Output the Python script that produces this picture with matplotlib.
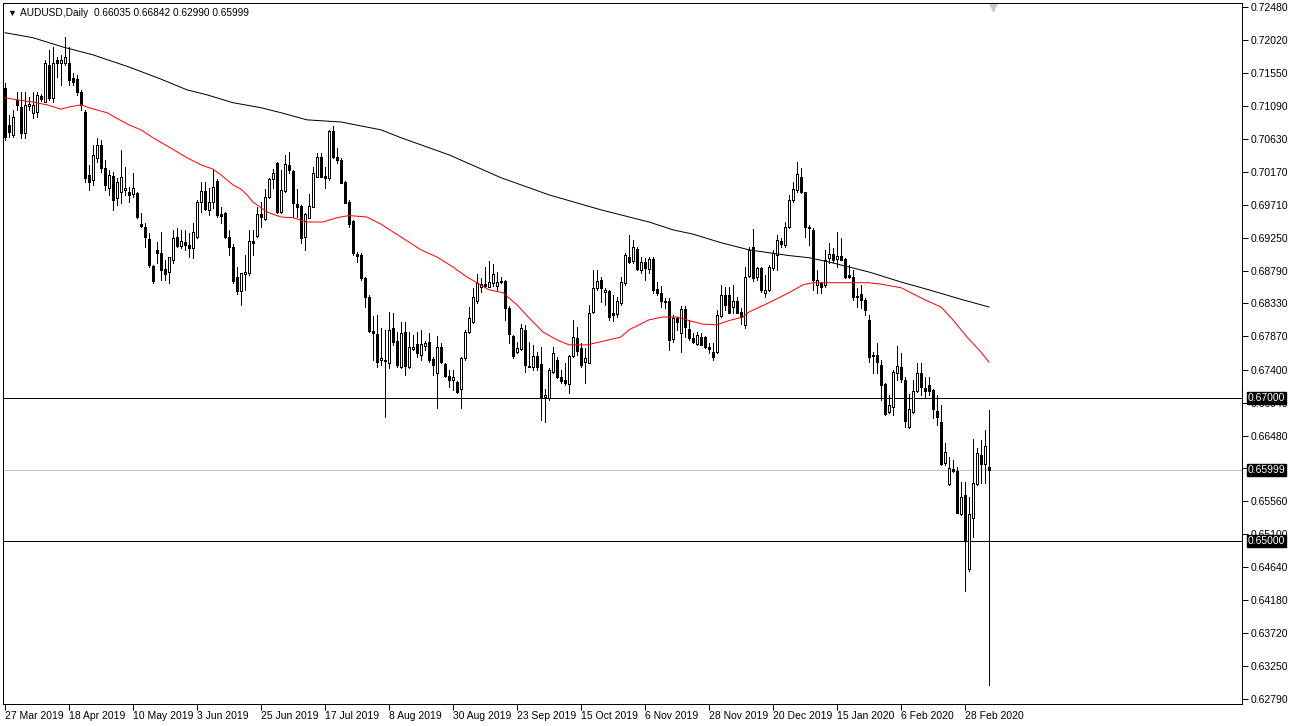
import matplotlib.pyplot as plt
from matplotlib.transforms import blended_transform_factory

plt.rcParams['font.family'] = ['Liberation Sans', 'DejaVu Sans']

# AUDUSD daily candles, 27 Mar 2019 .. 9 Mar 2020
opens = [0.7135, 0.7083, 0.7069, 0.7118, 0.7108, 0.7072, 0.7110, 0.7100, 0.7101, 0.7124,
         0.7115, 0.7167, 0.7121, 0.7174, 0.7170, 0.7170, 0.7170, 0.7149, 0.7147, 0.7129,
         0.7101, 0.7013, 0.7006, 0.7037, 0.7055, 0.7023, 0.6995, 0.7012, 0.6981, 0.6989,
         0.6992, 0.6989, 0.6986, 0.6988, 0.6944, 0.6940, 0.6923, 0.6886, 0.6908, 0.6904,
         0.6881, 0.6877, 0.6894, 0.6926, 0.6914, 0.6919, 0.6915, 0.6911, 0.6926, 0.6975,
         0.6991, 0.6964, 0.6975, 0.7005, 0.6958, 0.6960, 0.6926, 0.6912, 0.6870, 0.6851,
         0.6874, 0.6876, 0.6921, 0.6928, 0.6958, 0.6951, 0.6982, 0.7007, 0.7030, 0.6961,
         0.6991, 0.7027, 0.7019, 0.6972, 0.6970, 0.6926, 0.6953, 0.6968, 0.7010, 0.7038,
         0.7012, 0.7009, 0.7075, 0.7038, 0.7034, 0.7003, 0.6975, 0.6949, 0.6902, 0.6901,
         0.6869, 0.6842, 0.6795, 0.6790, 0.6754, 0.6754, 0.6750, 0.6799, 0.6781, 0.6744,
         0.6793, 0.6744, 0.6769, 0.6776, 0.6761, 0.6774, 0.6779, 0.6755, 0.6736, 0.6772,
         0.6748, 0.6732, 0.6726, 0.6723, 0.6713, 0.6757, 0.6793, 0.6807, 0.6837, 0.6856,
         0.6860, 0.6856, 0.6862, 0.6858, 0.6865, 0.6865, 0.6827, 0.6788, 0.6765, 0.6769,
         0.6796, 0.6746, 0.6744, 0.6760, 0.6748, 0.6702, 0.6701, 0.6737, 0.6754, 0.6730,
         0.6726, 0.6720, 0.6760, 0.6785, 0.6771, 0.6751, 0.6750, 0.6821, 0.6855, 0.6866,
         0.6849, 0.6851, 0.6820, 0.6818, 0.6834, 0.6862, 0.6898, 0.6893, 0.6909, 0.6880,
         0.6891, 0.6881, 0.6895, 0.6853, 0.6848, 0.6837, 0.6837, 0.6783, 0.6813, 0.6792,
         0.6825, 0.6797, 0.6785, 0.6776, 0.6786, 0.6786, 0.6772, 0.6765, 0.6765, 0.6816,
         0.6845, 0.6845, 0.6828, 0.6837, 0.6821, 0.6803, 0.6872, 0.6912, 0.6870, 0.6883,
         0.6848, 0.6852, 0.6883, 0.6901, 0.6921, 0.6915, 0.6940, 0.6978, 0.6992, 0.7010,
         0.6989, 0.6940, 0.6936, 0.6859, 0.6862, 0.6859, 0.6897, 0.6902, 0.6895, 0.6900,
         0.6895, 0.6873, 0.6870, 0.6844, 0.6846, 0.6838, 0.6810, 0.6761, 0.6761, 0.6747,
         0.6720, 0.6681, 0.6688, 0.6736, 0.6744, 0.6726, 0.6660, 0.6681, 0.6711, 0.6736,
         0.6715, 0.6719, 0.6712, 0.6683, 0.6667, 0.6610, 0.6580, 0.6601, 0.6599, 0.6538,
         0.6565, 0.6461, 0.6533, 0.6580, 0.6621, 0.6608, 0.66035]
highs = [0.7142, 0.7097, 0.7104, 0.7129, 0.7129, 0.7129, 0.7122, 0.7129, 0.7129, 0.7126,
         0.7174, 0.7188, 0.7192, 0.7178, 0.7181, 0.7206, 0.7192, 0.7156, 0.7153, 0.7132,
         0.7104, 0.7027, 0.7055, 0.7065, 0.7062, 0.7034, 0.7020, 0.7017, 0.7009, 0.7048,
         0.7024, 0.6996, 0.7016, 0.6989, 0.6960, 0.6946, 0.6932, 0.6887, 0.6919, 0.6933,
         0.6894, 0.6898, 0.6936, 0.6939, 0.6936, 0.6936, 0.6932, 0.6946, 0.6978, 0.7003,
         0.7003, 0.6995, 0.7021, 0.7007, 0.6968, 0.6961, 0.6936, 0.6916, 0.6884, 0.6876,
         0.6901, 0.6936, 0.6936, 0.6968, 0.6975, 0.6993, 0.7009, 0.7021, 0.7031, 0.7020,
         0.7041, 0.7045, 0.7020, 0.6993, 0.6971, 0.6960, 0.6986, 0.7024, 0.7044, 0.7044,
         0.7024, 0.7076, 0.7082, 0.7051, 0.7037, 0.7005, 0.6978, 0.6950, 0.6905, 0.6904,
         0.6870, 0.6845, 0.6816, 0.6817, 0.6799, 0.6796, 0.6821, 0.6820, 0.6793, 0.6807,
         0.6807, 0.6793, 0.6789, 0.6793, 0.6796, 0.6781, 0.6792, 0.6758, 0.6788, 0.6778,
         0.6750, 0.6740, 0.6740, 0.6725, 0.6758, 0.6796, 0.6828, 0.6855, 0.6874, 0.6869,
         0.6884, 0.6893, 0.6888, 0.6877, 0.6870, 0.6866, 0.6830, 0.6789, 0.6779, 0.6804,
         0.6803, 0.6779, 0.6775, 0.6765, 0.6772, 0.6713, 0.6743, 0.6772, 0.6758, 0.6740,
         0.6750, 0.6761, 0.6810, 0.6800, 0.6778, 0.6771, 0.6831, 0.6880, 0.6880, 0.6870,
         0.6855, 0.6852, 0.6845, 0.6842, 0.6870, 0.6904, 0.6929, 0.6922, 0.6912, 0.6898,
         0.6897, 0.6898, 0.6898, 0.6863, 0.6858, 0.6841, 0.6841, 0.6817, 0.6814, 0.6830,
         0.6830, 0.6810, 0.6792, 0.6793, 0.6792, 0.6788, 0.6778, 0.6778, 0.6824, 0.6859,
         0.6856, 0.6856, 0.6859, 0.6842, 0.6827, 0.6884, 0.6912, 0.6937, 0.6884, 0.6884,
         0.6873, 0.6887, 0.6908, 0.6929, 0.6925, 0.6947, 0.6985, 0.7003, 0.7031, 0.7023,
         0.6989, 0.6943, 0.6939, 0.6880, 0.6863, 0.6908, 0.6918, 0.6911, 0.6933, 0.6925,
         0.6897, 0.6887, 0.6880, 0.6855, 0.6859, 0.6841, 0.6817, 0.6765, 0.6778, 0.6754,
         0.6722, 0.6705, 0.6740, 0.6774, 0.6764, 0.6730, 0.6706, 0.6726, 0.6750, 0.6750,
         0.6730, 0.6730, 0.6713, 0.6705, 0.6691, 0.6638, 0.6618, 0.6614, 0.6604, 0.6583,
         0.6583, 0.6562, 0.6643, 0.6631, 0.6642, 0.6656, 0.66842]
lows = [0.7062, 0.7066, 0.7066, 0.7104, 0.7065, 0.7065, 0.7104, 0.7093, 0.7094, 0.7117,
        0.7115, 0.7118, 0.7115, 0.7150, 0.7139, 0.7167, 0.7139, 0.7139, 0.7125, 0.7104,
        0.7003, 0.6992, 0.6999, 0.7031, 0.7017, 0.6992, 0.6985, 0.6964, 0.6971, 0.6974,
        0.6985, 0.6975, 0.6982, 0.6953, 0.6940, 0.6912, 0.6884, 0.6862, 0.6890, 0.6866,
        0.6866, 0.6862, 0.6890, 0.6912, 0.6911, 0.6908, 0.6898, 0.6897, 0.6925, 0.6961,
        0.6964, 0.6957, 0.6967, 0.6954, 0.6946, 0.6925, 0.6901, 0.6862, 0.6846, 0.6831,
        0.6852, 0.6873, 0.6901, 0.6926, 0.6940, 0.6950, 0.6981, 0.6995, 0.6960, 0.6960,
        0.6989, 0.7016, 0.6954, 0.6954, 0.6918, 0.6908, 0.6953, 0.6968, 0.7010, 0.7010,
        0.6995, 0.7006, 0.7037, 0.7030, 0.7002, 0.6974, 0.6940, 0.6901, 0.6891, 0.6866,
        0.6828, 0.6793, 0.6754, 0.6744, 0.6747, 0.6674, 0.6743, 0.6775, 0.6744, 0.6743,
        0.6733, 0.6743, 0.6768, 0.6758, 0.6754, 0.6768, 0.6751, 0.6733, 0.6687, 0.6750,
        0.6730, 0.6716, 0.6712, 0.6708, 0.6687, 0.6754, 0.6792, 0.6806, 0.6834, 0.6849,
        0.6856, 0.6856, 0.6858, 0.6852, 0.6862, 0.6810, 0.6778, 0.6757, 0.6764, 0.6768,
        0.6737, 0.6744, 0.6740, 0.6740, 0.6670, 0.6667, 0.6698, 0.6736, 0.6729, 0.6722,
        0.6719, 0.6708, 0.6758, 0.6761, 0.6744, 0.6722, 0.6750, 0.6820, 0.6852, 0.6835,
        0.6831, 0.6810, 0.6809, 0.6814, 0.6831, 0.6859, 0.6890, 0.6890, 0.6880, 0.6876,
        0.6866, 0.6876, 0.6848, 0.6845, 0.6828, 0.6827, 0.6768, 0.6779, 0.6796, 0.6765,
        0.6786, 0.6782, 0.6778, 0.6775, 0.6775, 0.6771, 0.6764, 0.6754, 0.6764, 0.6814,
        0.6824, 0.6820, 0.6820, 0.6820, 0.6804, 0.6799, 0.6870, 0.6865, 0.6866, 0.6849,
        0.6842, 0.6851, 0.6880, 0.6880, 0.6912, 0.6912, 0.6939, 0.6975, 0.6989, 0.6988,
        0.6926, 0.6915, 0.6852, 0.6848, 0.6848, 0.6856, 0.6890, 0.6891, 0.6884, 0.6894,
        0.6869, 0.6869, 0.6838, 0.6828, 0.6827, 0.6817, 0.6751, 0.6736, 0.6736, 0.6698,
        0.6677, 0.6680, 0.6677, 0.6726, 0.6723, 0.6660, 0.6659, 0.6680, 0.6709, 0.6705,
        0.6702, 0.6705, 0.6673, 0.6663, 0.6607, 0.6607, 0.6579, 0.6597, 0.6540, 0.6537,
        0.6431, 0.6459, 0.6506, 0.6579, 0.6582, 0.6582, 0.62990]
closes = [0.7066, 0.7073, 0.7094, 0.7111, 0.7072, 0.7111, 0.7112, 0.7111, 0.7125, 0.7119,
          0.7170, 0.7121, 0.7170, 0.7170, 0.7174, 0.7178, 0.7146, 0.7143, 0.7129, 0.7111,
          0.7009, 0.7003, 0.7041, 0.7055, 0.7023, 0.6999, 0.7013, 0.6978, 0.7003, 0.7010,
          0.6995, 0.6985, 0.6995, 0.6954, 0.6942, 0.6926, 0.6887, 0.6865, 0.6904, 0.6880,
          0.6874, 0.6898, 0.6925, 0.6914, 0.6921, 0.6915, 0.6911, 0.6933, 0.6975, 0.6991,
          0.6965, 0.6975, 0.6996, 0.6957, 0.6956, 0.6926, 0.6912, 0.6865, 0.6851, 0.6876,
          0.6877, 0.6921, 0.6918, 0.6958, 0.6954, 0.6982, 0.7007, 0.7016, 0.6961, 0.6992,
          0.7028, 0.7020, 0.6974, 0.6968, 0.6925, 0.6958, 0.6970, 0.7016, 0.7038, 0.7010,
          0.7009, 0.7075, 0.7038, 0.7034, 0.7002, 0.6974, 0.6944, 0.6904, 0.6900, 0.6869,
          0.6842, 0.6795, 0.6792, 0.6751, 0.6757, 0.6753, 0.6796, 0.6779, 0.6747, 0.6792,
          0.6746, 0.6772, 0.6772, 0.6764, 0.6776, 0.6778, 0.6754, 0.6747, 0.6772, 0.6751,
          0.6732, 0.6726, 0.6730, 0.6709, 0.6757, 0.6793, 0.6813, 0.6842, 0.6862, 0.6860,
          0.6858, 0.6863, 0.6874, 0.6863, 0.6863, 0.6827, 0.6790, 0.6760, 0.6771, 0.6799,
          0.6747, 0.6744, 0.6760, 0.6744, 0.6702, 0.6705, 0.6740, 0.6764, 0.6730, 0.6725,
          0.6722, 0.6760, 0.6786, 0.6767, 0.6747, 0.6757, 0.6820, 0.6855, 0.6865, 0.6855,
          0.6852, 0.6814, 0.6817, 0.6837, 0.6863, 0.6901, 0.6891, 0.6912, 0.6881, 0.6891,
          0.6883, 0.6895, 0.6852, 0.6848, 0.6837, 0.6835, 0.6782, 0.6813, 0.6807, 0.6825,
          0.6800, 0.6785, 0.6779, 0.6789, 0.6775, 0.6772, 0.6769, 0.6758, 0.6817, 0.6845,
          0.6831, 0.6820, 0.6837, 0.6820, 0.6814, 0.6870, 0.6908, 0.6869, 0.6883, 0.6852,
          0.6852, 0.6884, 0.6904, 0.6922, 0.6916, 0.6940, 0.6978, 0.6993, 0.7014, 0.6989,
          0.6940, 0.6939, 0.6866, 0.6866, 0.6856, 0.6894, 0.6902, 0.6894, 0.6900, 0.6894,
          0.6870, 0.6870, 0.6842, 0.6842, 0.6838, 0.6824, 0.6758, 0.6760, 0.6751, 0.6719,
          0.6678, 0.6691, 0.6737, 0.6746, 0.6727, 0.6669, 0.6685, 0.6711, 0.6736, 0.6716,
          0.6711, 0.6711, 0.6685, 0.6674, 0.6608, 0.6625, 0.6603, 0.6599, 0.6540, 0.6562,
          0.6501, 0.6538, 0.6582, 0.6624, 0.6608, 0.6634, 0.65999]

# moving averages (bar index, value)
red_idx = [0, 3, 7, 10.5, 14, 16, 19, 21, 25.5, 29, 31, 34, 37, 41, 45.5, 49, 52, 54, 57, 59,
           60.5, 62, 65.5, 69, 72, 75.5, 79.5, 83, 86, 90.5, 94, 99, 104, 108, 112, 115.5, 118,
           121, 124.5, 128, 131, 134.5, 138, 141, 145.5, 149.5, 154, 156, 161, 164.5, 168, 171,
           174.5, 178, 181, 184.5, 186, 191, 196, 199.5, 202, 206, 210.5, 216, 219, 224, 230,
           234, 237, 240.5, 244, 246]
red_val = [0.7121, 0.7118, 0.7115, 0.7111, 0.7105, 0.7108, 0.7111, 0.7107, 0.7100, 0.7089,
           0.7083, 0.7076, 0.7065, 0.7052, 0.7037, 0.7027, 0.7021, 0.7013, 0.6999, 0.6993,
           0.6985, 0.6975, 0.6961, 0.6954, 0.6953, 0.6947, 0.6947, 0.6953, 0.6956, 0.6954,
           0.6944, 0.6926, 0.6908, 0.6898, 0.6884, 0.6870, 0.6862, 0.6852, 0.6848, 0.6831,
           0.6813, 0.6793, 0.6782, 0.6775, 0.6775, 0.6780, 0.6786, 0.6796, 0.6810, 0.6814,
           0.6814, 0.6809, 0.6804, 0.6803, 0.6809, 0.6814, 0.6821, 0.6834, 0.6848, 0.6859,
           0.6862, 0.6862, 0.6862, 0.6862, 0.6860, 0.6855, 0.6838, 0.6828, 0.6810, 0.6786,
           0.6765, 0.6751]
black_idx = [0, 7, 14.5, 22, 31, 39, 45.5, 50.5, 57, 64, 69, 75.5, 84, 94, 99, 111, 124, 136,
             149, 161, 167, 172, 179, 186, 191, 196, 201, 206, 211, 216, 224, 231, 239.5, 246]
black_val = [0.7212, 0.7205, 0.7192, 0.7181, 0.7164, 0.7147, 0.7132, 0.7125, 0.7114, 0.7107,
             0.7100, 0.7090, 0.7087, 0.7076, 0.7065, 0.7041, 0.7009, 0.6985, 0.6964, 0.6947,
             0.6936, 0.6930, 0.6918, 0.6908, 0.6904, 0.6900, 0.6897, 0.6891, 0.6884, 0.6877,
             0.6863, 0.6852, 0.6838, 0.6828]

date_labels = ["27 Mar 2019", "18 Apr 2019", "10 May 2019", "3 Jun 2019", "25 Jun 2019",
               "17 Jul 2019", "8 Aug 2019", "30 Aug 2019", "23 Sep 2019", "15 Oct 2019",
               "6 Nov 2019", "28 Nov 2019", "20 Dec 2019", "15 Jan 2020", "6 Feb 2020",
               "28 Feb 2020"]
price_ticks = [0.72480, 0.72020, 0.71550, 0.71090, 0.70630, 0.70170, 0.69710, 0.69250,
               0.68790, 0.68330, 0.67870, 0.67400, 0.66940, 0.66480, 0.66020, 0.65560,
               0.65100, 0.64640, 0.64180, 0.63720, 0.63250, 0.62790]
hidden_ticks = [0.66020]   # fully covered by the last-price box
levels = [0.67000, 0.65000]
last_price = 0.65999

W, H = 1292, 726
fig = plt.figure(figsize=(W / 100, H / 100), dpi=100)
ax = fig.add_axes([3 / W, 1 - 704 / H, (1242 - 3) / W, (704 - 3) / H])

px = 0.72  # one pixel in points
n = len(opens)
x = list(range(n))
bottoms = [min(o, c) for o, c in zip(opens, closes)]
heights = [max(abs(c - o), 0.00004) for o, c in zip(opens, closes)]
fills = ['white' if c >= o else 'black' for o, c in zip(opens, closes)]

# candles
ax.vlines(x, lows, highs, color='black', linewidth=px, zorder=2, antialiased=False)
ax.bar(x, heights, bottom=bottoms, width=0.5, color=fills, edgecolor='black',
       linewidth=px, zorder=3, antialiased=False)

# moving averages
ax.plot(red_idx, red_val, color='#ff0000', linewidth=px, zorder=4)
ax.plot(black_idx, black_val, color='black', linewidth=px, zorder=4)

# horizontal levels
for lv in levels:
    ax.axhline(lv, color='black', linewidth=px, zorder=1)
ax.axhline(last_price, color='#c0c0c0', linewidth=px, zorder=1)

ax.set_xlim(-0.5, 309.25)
ax.set_ylim(0.62722, 0.72536)

ax.yaxis.tick_right()
ax.set_yticks(price_ticks)
ax.set_yticklabels(["" if v in hidden_ticks else f"{v:.5f}" for v in price_ticks],
                   fontsize=7.5)
ax.tick_params(axis='y', length=4, width=px, pad=2)

ax.set_xticks([16 * k for k in range(len(date_labels))])
ax.set_xticklabels(date_labels, fontsize=7.5)
for lbl in ax.get_xticklabels():
    lbl.set_horizontalalignment('left')
ax.tick_params(axis='x', length=4, width=px, pad=1)

for sp in ax.spines.values():
    sp.set_color('black')
    sp.set_linewidth(px)

# price boxes on the right scale
tr = blended_transform_factory(ax.transAxes, ax.transData)
for v in levels + [last_price]:
    ax.text(1.0045, v, f"{v:.5f}", transform=tr, ha='left', va='center', fontsize=7.5,
            color='white', zorder=10, clip_on=False,
            bbox=dict(boxstyle='square,pad=0.1', facecolor='black', edgecolor='black'))

# chart shift marker
ax.plot([247], [0.994], marker='v', markersize=6, color='#c8c8c8',
        transform=blended_transform_factory(ax.transData, ax.transAxes), clip_on=False)

# header
fig.text(7 / W, 1 - 13 / H, "\u25bc", fontsize=6.5, va='center')
fig.text(20 / W, 1 - 13 / H, "AUDUSD,Daily  0.66035 0.66842 0.62990 0.65999",
         fontsize=7.3, va='center')

fig.savefig("out.png", dpi=100)
